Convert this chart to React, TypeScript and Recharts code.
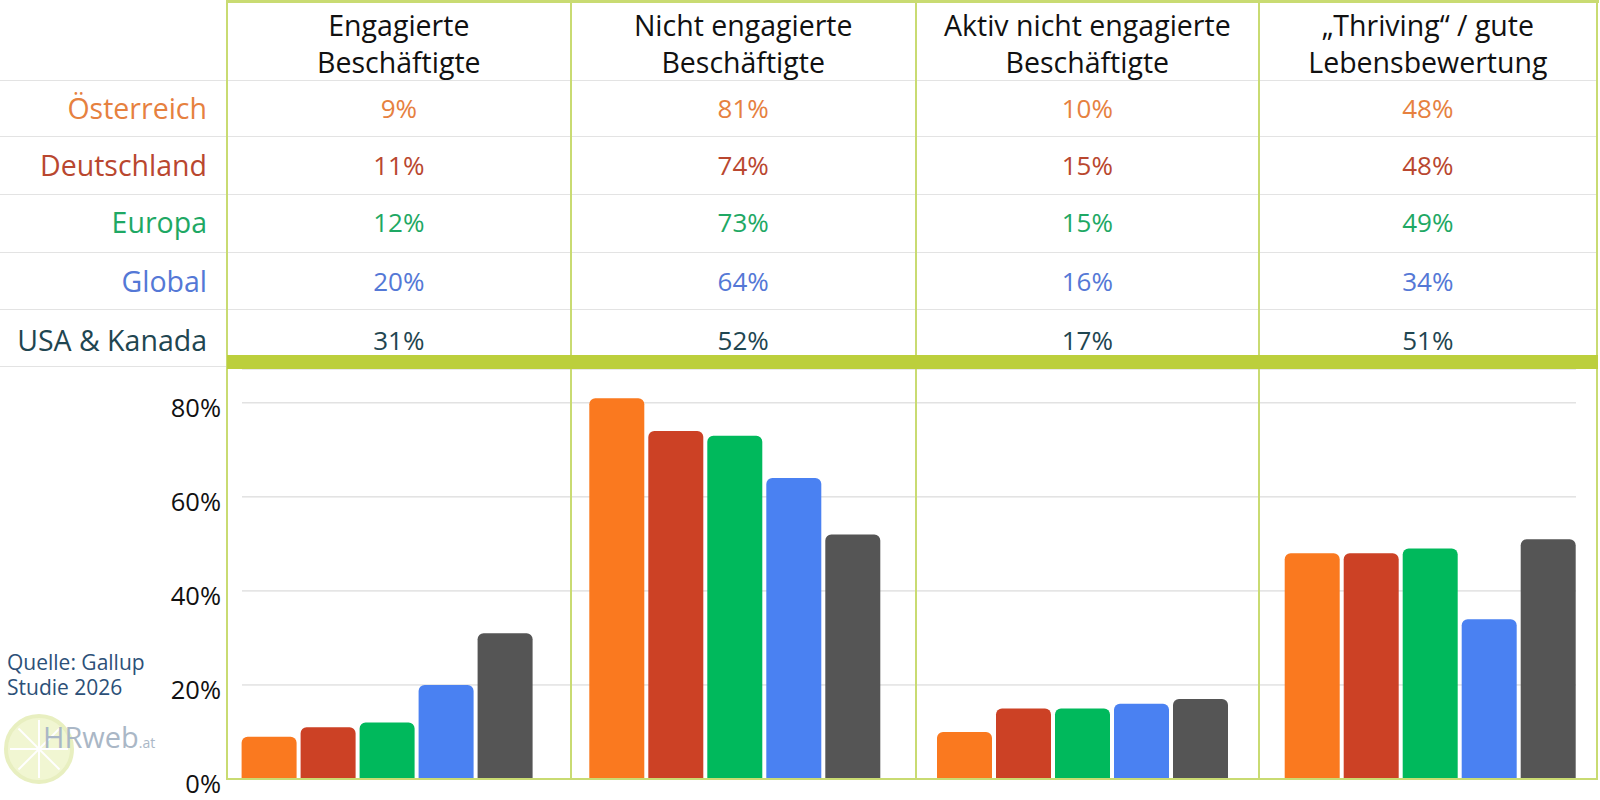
import React from "react";
import { BarChart, Bar, XAxis, YAxis, CartesianGrid } from "recharts";

// ---- data ----
const regions = ["Österreich", "Deutschland", "Europa", "Global", "USA & Kanada"];
const metrics = [
  "Engagierte\nBeschäftigte",
  "Nicht engagierte\nBeschäftigte",
  "Aktiv nicht engagierte\nBeschäftigte",
  "„Thriving“ / gute\nLebensbewertung",
];
const oesterreich = [9, 81, 10, 48];
const deutschland = [11, 74, 15, 48];
const europa = [12, 73, 15, 49];
const global = [20, 64, 16, 34];
const usaKanada = [31, 52, 17, 51];
const yTicks = [0, 20, 40, 60, 80];
const sourceLines = ["Quelle: Gallup", "Studie 2026"];

const seriesValues = [oesterreich, deutschland, europa, global, usaKanada];
const barColors = ["#FA791F", "#CC4125", "#00B95C", "#4A81F2", "#555555"];
const textColors = ["#E6813F", "#B9472F", "#1EA864", "#5478D6", "#1F4651"];
const keys = ["r0", "r1", "r2", "r3", "r4"];

const data = metrics.map((m, i) => {
  const row: Record<string, any> = { metric: m };
  seriesValues.forEach((s, j) => (row[keys[j]] = s[i]));
  return row;
});

// ---- layout ----
const FONT = "'Open Sans', Lato, sans-serif";
const colX = [227, 570.7, 915.7, 1259, 1596.7];
const rowLines = [80, 136, 194, 252, 309];
const rowCenters = [108, 165, 222, 281, 340];
const LINE_GREEN = "#C9DB72";
const BAND_GREEN = "#BCCF3C";

const YTick = (props: any) => {
  const { y, payload } = props;
  return (
    <text
      x={221}
      y={y + 4}
      textAnchor="end"
      dominantBaseline="central"
      fontSize={25.5}
      fontFamily={FONT}
      fill="#111"
    >
      {payload.value}%
    </text>
  );
};

export default function App() {
  return (
    <div
      style={{
        position: "absolute",
        left: 0,
        top: 0,
        width: 1600,
        height: 800,
        overflow: "hidden",
        background: "#fff",
        fontFamily: FONT,
      }}
    >
      {/* row separators */}
      {rowLines.map((y, i) => (
        <div
          key={"rl" + i}
          style={{ position: "absolute", left: 0, width: 1597, top: y, height: 1, background: "#E3E3E3" }}
        />
      ))}
      <div style={{ position: "absolute", left: 0, width: 227, top: 366, height: 1, background: "#E3E3E3" }} />

      {/* chart */}
      <div style={{ position: "absolute", left: 0, top: 0 }}>
        <BarChart
          width={1620}
          height={800}
          data={data}
          margin={{ top: 369, right: 15.6, bottom: 21, left: 0 }}
          barCategoryGap={28}
          barGap={4}
        >
          <CartesianGrid vertical={false} x={242} width={1334} stroke="#D3D3D3" />
          <XAxis dataKey="metric" hide />
          <YAxis
            width={213.6}
            domain={[0, 87.2]}
            allowDataOverflow
            ticks={yTicks}
            axisLine={false}
            tickLine={false}
            tick={<YTick />}
          />
          {keys.map((k, j) => (
            <Bar
              key={k}
              dataKey={k}
              name={regions[j]}
              fill={barColors[j]}
              radius={[6, 6, 0, 0]}
              isAnimationActive={false}
            />
          ))}
        </BarChart>
      </div>

      {/* header texts */}
      {metrics.map((m, i) => (
        <div
          key={"h" + i}
          style={{
            position: "absolute",
            left: colX[i],
            width: colX[i + 1] - colX[i],
            top: 6.5,
            lineHeight: "37px",
            fontSize: 28.5,
            textAlign: "center",
            whiteSpace: "pre-line",
            color: "#111",
          }}
        >
          {m}
        </div>
      ))}

      {/* row labels */}
      {regions.map((r, j) => (
        <div
          key={"l" + j}
          style={{
            position: "absolute",
            left: 0,
            width: 207,
            top: rowCenters[j] - 20,
            height: 40,
            lineHeight: "40px",
            fontSize: 28.5,
            textAlign: "right",
            color: textColors[j],
            whiteSpace: "nowrap",
          }}
        >
          {r}
        </div>
      ))}

      {/* values */}
      {seriesValues.map((s, j) =>
        s.map((v, i) => (
          <div
            key={"v" + j + "-" + i}
            style={{
              position: "absolute",
              left: colX[i],
              width: colX[i + 1] - colX[i],
              top: rowCenters[j] - 20,
              height: 40,
              lineHeight: "40px",
              fontSize: 26,
              textAlign: "center",
              color: textColors[j],
            }}
          >
            {v}%
          </div>
        ))
      )}

      {/* green structure lines */}
      <div style={{ position: "absolute", left: colX[0], width: colX[4] - colX[0] + 2, top: 0, height: 2.5, background: LINE_GREEN }} />
      {colX.map((x, i) => (
        <div
          key={"vl" + i}
          style={{ position: "absolute", left: x - 1, width: 2, top: 0, height: 780, background: LINE_GREEN }}
        />
      ))}
      <div style={{ position: "absolute", left: colX[0], width: colX[4] - colX[0] + 1, top: 355, height: 14, background: BAND_GREEN }} />
      <div style={{ position: "absolute", left: colX[0], width: colX[4] - colX[0] + 1, top: 777.5, height: 2, background: LINE_GREEN }} />

      {/* source */}
      <div
        style={{
          position: "absolute",
          left: 7,
          top: 650,
          fontSize: 21,
          lineHeight: "25px",
          color: "#2C5078",
          whiteSpace: "pre-line",
        }}
      >
        {sourceLines.join("\n")}
      </div>

      {/* logo */}
      <svg style={{ position: "absolute", left: 0, top: 700 }} width={180} height={100}>
        <circle cx={39} cy={49} r={33} fill="#F1F6D2" stroke="#E8EFC0" strokeWidth={4} />
        {[0, 45, 90, 135].map((a) => {
          const rad = (a * Math.PI) / 180;
          return (
            <line
              key={a}
              x1={39 - 29 * Math.cos(rad)}
              y1={49 - 29 * Math.sin(rad)}
              x2={39 + 29 * Math.cos(rad)}
              y2={49 + 29 * Math.sin(rad)}
              stroke="#fff"
              strokeWidth={2}
            />
          );
        })}
        <text x={43} y={48} fontFamily={FONT} fill="#AAB7C6">
          <tspan fontSize={29}>HRweb</tspan>
          <tspan fontSize={14}>.at</tspan>
        </text>
      </svg>
    </div>
  );
}
